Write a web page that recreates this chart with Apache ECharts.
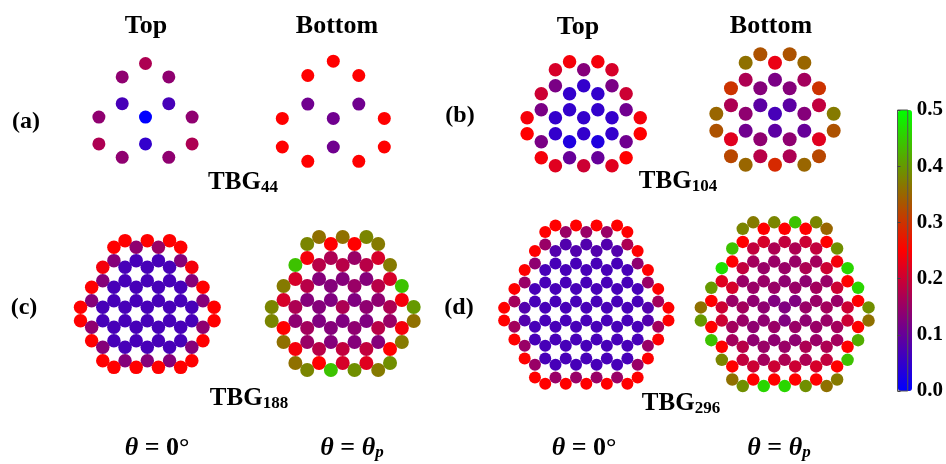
<!DOCTYPE html>
<html><head><meta charset="utf-8">
<style>html,body{margin:0;padding:0;background:#fff}#c{width:946px;height:464px}</style>
<script src="https://cdn.jsdelivr.net/npm/echarts@6/dist/echarts.min.js"></script>
</head><body><div id="c"></div>
<script>
// Atom rows: [lattice row, first lattice column, values of each atom at every second column...]
const aTop=[[5,0,.17],[4,-1,.14,.14],[2,-1,.07,.07],[1,-2,.14,0,.14],[-1,-2,.17,.05,.17],[-2,-1,.14,.14]];
const aBottom=[[5,0,.25],[4,-1,.25,.25],[2,-1,.11,.11],[1,-2,.25,.11,.25],[-1,-2,.25,.11,.25],[-2,-1,.25,.25]];
const bTop=[[8,-1,.24,.24],[7,-2,.21,.13,.21],[5,-2,.12,.05,.12],[4,-3,.2,.05,.05,.2],[2,-3,.12,.05,.05,.11],
[1,-4,.24,.05,.05,.05,.24],[-1,-4,.25,.05,.05,.05,.25],[-2,-3,.12,.03,.03,.11],[-4,-3,.24,.1,.1,.25],[-5,-2,.22,.2,.22]];
const bBottom=[[8,-1,.33,.33],[7,-2,.36,.23,.35],[5,-2,.17,.12,.16],[4,-3,.3,.13,.13,.3],[2,-3,.17,.09,.09,.19],
[1,-4,.35,.14,.07,.13,.37],[-1,-4,.33,.11,.09,.1,.33],[-2,-3,.22,.14,.14,.22],[-4,-3,.32,.18,.17,.32],[-5,-2,.35,.29,.35]];
const cTop=[[11,-2,.25,.25,.25],[10,-3,.25,.14,.15,.25],[8,-3,.13,.07,.07,.13],[7,-4,.24,.07,.07,.07,.24],
[5,-4,.13,.07,.07,.07,.13],[4,-5,.25,.07,.07,.07,.07,.25],[2,-5,.13,.07,.07,.07,.07,.13],[1,-6,.25,.07,.07,.07,.07,.07,.25],
[-1,-6,.25,.07,.07,.07,.07,.07,.25],[-2,-5,.14,.07,.07,.07,.07,.14],[-4,-5,.25,.07,.07,.07,.07,.25],[-5,-4,.13,.07,.07,.07,.13],
[-7,-4,.25,.13,.13,.13,.25],[-8,-3,.25,.25,.25,.25]];
const cBottom=[[11,-2,.36,.36,.38],[10,-3,.38,.25,.25,.37],[8,-3,.24,.17,.15,.21],[7,-4,.44,.18,.18,.18,.37],
[5,-4,.21,.13,.13,.13,.21],[4,-5,.37,.18,.13,.15,.18,.44],[2,-5,.21,.13,.125,.125,.14,.24],[1,-6,.38,.17,.13,.17,.14,.17,.4],
[-1,-6,.38,.14,.125,.125,.125,.15,.36],[-2,-5,.25,.16,.13,.14,.18,.24],[-4,-5,.36,.15,.13,.13,.13,.37],[-5,-4,.24,.18,.19,.19,.25],
[-7,-4,.36,.25,.21,.22,.39],[-8,-3,.38,.44,.39,.37]];
const dTop=[[14,-3,.25,.25,.25,.25],[13,-4,.25,.15,.15,.15,.25],[11,-4,.15,.08,.08,.08,.17],[10,-5,.25,.08,.08,.08,.08,.25],
[8,-5,.14,.07,.07,.07,.07,.14],[7,-6,.25,.07,.07,.07,.07,.07,.25],[5,-6,.15,.07,.07,.07,.07,.07,.15],[4,-7,.25,.07,.07,.07,.07,.07,.07,.25],
[2,-7,.16,.07,.07,.07,.07,.07,.07,.16],[1,-8,.25,.08,.07,.07,.07,.07,.07,.08,.25],[-1,-8,.25,.08,.07,.07,.07,.07,.07,.08,.25],
[-2,-7,.16,.07,.07,.07,.07,.07,.07,.16],[-4,-7,.25,.07,.07,.07,.07,.07,.07,.25],[-5,-6,.15,.07,.07,.07,.07,.07,.15],
[-7,-6,.25,.07,.07,.07,.07,.07,.25],[-8,-5,.15,.07,.07,.07,.07,.15],[-10,-5,.25,.15,.15,.15,.15,.25],[-11,-4,.25,.25,.25,.25,.25]];
const dBottom=[[14,-3,.37,.38,.44,.38],[13,-4,.38,.25,.25,.25,.35],[11,-4,.25,.21,.19,.2,.25],[10,-5,.44,.19,.17,.17,.19,.39],
[8,-5,.25,.16,.15,.15,.16,.24],[7,-6,.47,.19,.15,.15,.17,.2,.46],[5,-6,.22,.15,.15,.14,.14,.15,.25],[4,-7,.4,.21,.15,.15,.15,.16,.2,.46],
[2,-7,.25,.15,.14,.125,.125,.15,.15,.25],[1,-8,.36,.2,.16,.14,.125,.15,.16,.2,.39],[-1,-8,.4,.2,.15,.14,.125,.14,.15,.2,.36],
[-2,-7,.25,.16,.14,.15,.15,.15,.16,.25],[-4,-7,.44,.16,.14,.14,.14,.15,.16,.42],[-5,-6,.25,.18,.15,.15,.17,.17,.25],
[-7,-6,.38,.19,.16,.17,.17,.19,.44],[-8,-5,.25,.2,.2,.2,.21,.25],[-10,-5,.36,.25,.25,.25,.25,.37],[-11,-4,.39,.46,.46,.39,.36]];

const colorStops=['#0000ff','#ff0000','#00ff00'];
const barTicks=[0,0.5];
const headTop='Top', headBottom='Bottom';
const panelTags=['(a)','(b)','(c)','(d)'];
const sizeTags=['44','104','188','296'];

const panels=[
 {name:'(a) Top',rows:aTop,cx:145.5,cy:130.5,sx:23.3,sy:13.4,size:13},
 {name:'(a) Bottom',rows:aBottom,cx:333.3,cy:132.7,sx:25.5,sy:14.3,size:13},
 {name:'(b) Top',rows:bTop,cx:583.7,cy:125.7,sx:14.14,sy:8,size:13.5},
 {name:'(b) Bottom',rows:bBottom,cx:775,cy:122.3,sx:14.67,sy:8.5,size:14},
 {name:'(c) Top',rows:cTop,cx:147.3,cy:314,sx:11.13,sy:6.67,size:13.5},
 {name:'(c) Bottom',rows:cBottom,cx:342.7,cy:314,sx:11.83,sy:7,size:14},
 {name:'(d) Top',rows:dTop,cx:586.3,cy:314.2,sx:10.27,sy:6.33,size:12},
 {name:'(d) Bottom',rows:dBottom,cx:784.7,cy:314,sx:10.48,sy:6.55,size:12.5}
];
const grids=[],xAxes=[],yAxes=[],series=[];
panels.forEach((p,i)=>{
  const data=[];let hx=1,hy=1;
  p.rows.forEach(r=>{r.slice(2).forEach((v,k)=>{const c=r[1]+2*k;data.push([c,r[0],v]);hx=Math.max(hx,Math.abs(c)+1);});hy=Math.max(hy,Math.abs(r[0])+1);});
  grids.push({left:p.cx-hx*p.sx,width:2*hx*p.sx,top:p.cy-hy*p.sy,height:2*hy*p.sy});
  xAxes.push({type:'value',gridIndex:i,min:-hx,max:hx,show:false});
  yAxes.push({type:'value',gridIndex:i,min:-hy,max:hy,show:false});
  series.push({name:p.name,type:'scatter',xAxisIndex:i,yAxisIndex:i,data:data,symbolSize:p.size,encode:{x:0,y:1},
    itemStyle:{opacity:1},silent:true});
});
// colour-bar scale
const barIdx=panels.length;
grids.push({left:897.5,width:15,top:110,height:281,show:true,borderColor:'#555',borderWidth:1,backgroundColor:'transparent',z:10});
xAxes.push({type:'value',gridIndex:barIdx,show:false,min:0,max:1});
yAxes.push({type:'value',gridIndex:barIdx,position:'right',min:barTicks[0],max:barTicks[1],interval:0.1,z:10,
  axisLine:{show:false},splitLine:{show:false},
  axisTick:{show:true,length:3,lineStyle:{color:'#444',width:1}},
  axisLabel:{margin:9,padding:[4,0,0,0],color:'#000',fontFamily:'Liberation Serif',fontWeight:'bold',fontSize:21,formatter:v=>v.toFixed(1)}});

const serif='"Liberation Serif"';
function t(text,x,y,size,extra){return {type:'text',z:20,silent:true,style:Object.assign({text:text,x:x,y:y,fill:'#000',font:'bold '+size+'px '+serif,align:'center',verticalAlign:'middle'},extra||{})};}
const rich={b:{font:'bold 25px '+serif,fill:'#000'},s:{font:'bold 17px '+serif,fill:'#000',padding:[9,0,0,0],verticalAlign:'bottom'}};
const thRich={i:{font:'italic bold 26px '+serif,fill:'#000'},n:{font:'bold 26px '+serif,fill:'#000'},s:{font:'italic bold 17px '+serif,fill:'#000',padding:[10,0,0,0],verticalAlign:'bottom'}};
const gfx=[
 t(headTop,146,26,26),t(headBottom,337,26,26),t(headTop,578,27,26),t(headBottom,771,26,26),
 t(panelTags[0],26,122,24),t(panelTags[1],460,116,24),t(panelTags[2],24,308,24),t(panelTags[3],459,308,24),
 t('{b|TBG}{s|'+sizeTags[0]+'}',243,183,25,{rich}),t('{b|TBG}{s|'+sizeTags[1]+'}',678,182,25,{rich}),
 t('{b|TBG}{s|'+sizeTags[2]+'}',249,399,25,{rich}),t('{b|TBG}{s|'+sizeTags[3]+'}',681,404,25,{rich}),
 t('{i|θ}{n| = 0°}',157,448,26,{rich:thRich}),t('{i|θ}{n| = }{i|θ}{s|p}',352,448,26,{rich:thRich}),
 t('{i|θ}{n| = 0°}',584,448,26,{rich:thRich}),t('{i|θ}{n| = }{i|θ}{s|p}',779,448,26,{rich:thRich})
];
const chart=echarts.init(document.getElementById('c'),null,{renderer:'canvas'});
chart.setOption({
  animation:false,backgroundColor:'#fff',
  grid:grids,xAxis:xAxes,yAxis:yAxes,series:series,graphic:gfx,
  visualMap:{type:'continuous',min:barTicks[0],max:barTicks[1],dimension:2,seriesIndex:panels.map((_,i)=>i),
    inRange:{color:colorStops},left:898,top:110,itemWidth:14,itemHeight:281,padding:0,calculable:false,text:null,orient:'vertical',realtime:false,hoverLink:false}
});
</script></body></html>
